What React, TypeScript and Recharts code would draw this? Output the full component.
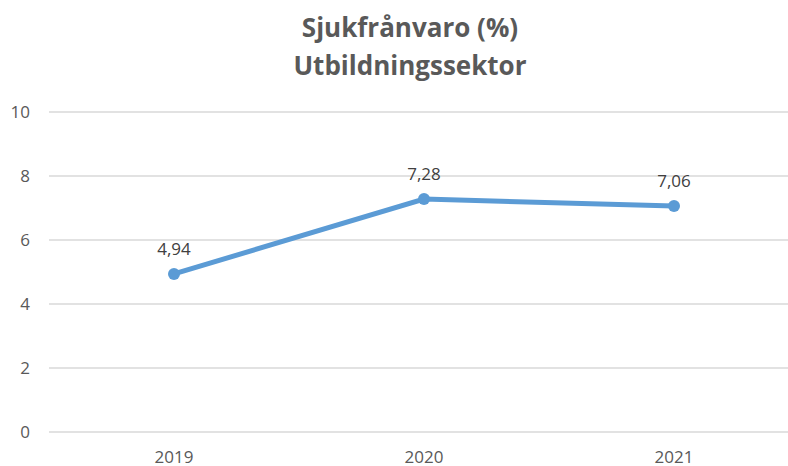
import { LineChart, Line, XAxis, YAxis, CartesianGrid, LabelList } from "recharts"

const years = ["2019", "2020", "2021"]
const sjukfranvaro = [4.94, 7.28, 7.06]
const yTicks = [0, 2, 4, 6, 8, 10]

const data = years.map((year, i) => ({ year, value: sjukfranvaro[i] }))

const font = "'Open Sans', 'Liberation Sans', sans-serif"

export default function App() {
  return (
    <div
      style={{
        position: "absolute",
        left: 0,
        top: 0,
        width: 788,
        height: 466,
        overflow: "hidden",
        background: "#fff",
        fontFamily: font,
      }}
    >
      <div
        style={{
          position: "absolute",
          left: 0,
          width: 820,
          top: 8,
          textAlign: "center",
          fontWeight: 700,
          fontSize: 26,
          lineHeight: "38px",
          color: "#595959",
        }}
      >
        Sjukfrånvaro (%)
        <br />
        Utbildningssektor
      </div>
      <LineChart
        width={800}
        height={466}
        data={data}
        margin={{ top: 112, right: 1, bottom: 4, left: 0 }}
      >
        <CartesianGrid vertical={false} stroke="#d9d9d9" strokeWidth={1.5} />
        <XAxis
          dataKey="year"
          axisLine={false}
          tickLine={false}
          tickSize={0}
          tickMargin={19}
          height={30}
          padding={{ left: 125, right: 125 }}
          tick={{ fill: "#595959", fontSize: 17, fontFamily: font }}
        />
        <YAxis
          domain={[0, 10]}
          ticks={yTicks}
          axisLine={false}
          tickLine={false}
          tickSize={0}
          tickMargin={19}
          width={49}
          tick={{ fill: "#595959", fontSize: 17, fontFamily: font }}
        />
        <Line
          dataKey="value"
          stroke="#5B9BD5"
          strokeWidth={5}
          dot={{ r: 6, fill: "#5B9BD5", stroke: "#5B9BD5", strokeWidth: 0 }}
          isAnimationActive={false}
        >
          <LabelList
            dataKey="value"
            position="top"
            offset={19}
            formatter={(v: number) => v.toFixed(2).replace(".", ",")}
            style={{ fill: "#404040", fontSize: 17, fontFamily: font }}
          />
        </Line>
      </LineChart>
    </div>
  )
}
